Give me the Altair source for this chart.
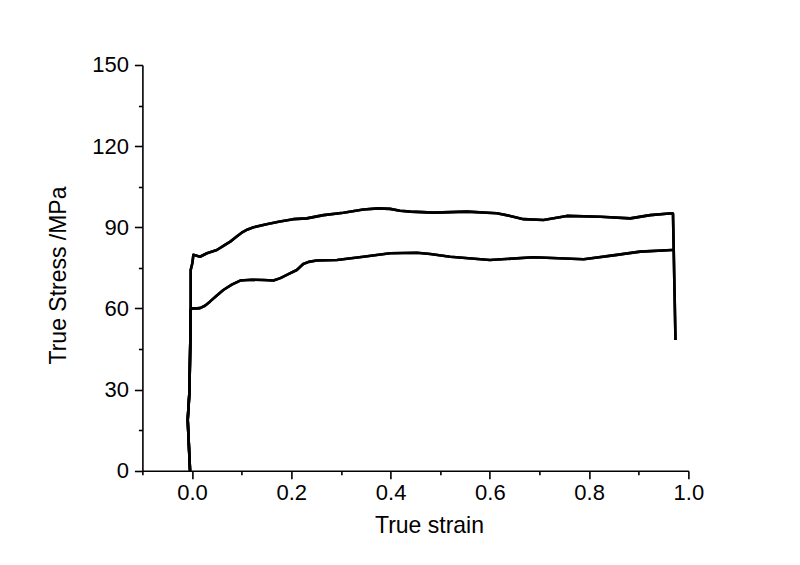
import altair as alt
import pandas as pd

# Curve A (upper)
strain_a = [-0.004, -0.0087, -0.0054, -0.0034, -0.0027, -0.0027, 0.0006, 0.0027, 0.016, 0.03,
            0.05, 0.064, 0.077, 0.09, 0.1, 0.112, 0.124, 0.15, 0.177, 0.204, 0.231, 0.265, 0.305,
            0.345, 0.375, 0.399, 0.419, 0.44, 0.487, 0.554, 0.614, 0.641, 0.668,
            0.708, 0.755, 0.823, 0.883, 0.923, 0.967, 0.969, 0.974]
stress_a = [0.0, 18.8, 28.6, 48.3, 59.4, 74.2, 76.7, 79.8, 79.1, 80.4,
            81.6, 83.2, 84.7, 86.6, 88.0, 89.2, 90.0, 91.1, 92.1, 93.0, 93.3, 94.5, 95.4,
            96.6, 97.0, 96.8, 96.1, 95.8, 95.4, 95.8, 95.2, 94.2, 93.0,
            92.7, 94.2, 93.9, 93.3, 94.5, 95.2, 95.0, 48.3]

# Curve B (lower)
strain_b = [-0.004, -0.0087, -0.0054, -0.0034, -0.0027, -0.0007, 0.0094, 0.016, 0.026, 0.036, 0.05, 0.063,
            0.08, 0.097, 0.12, 0.144, 0.164, 0.178, 0.191, 0.211, 0.224, 0.235, 0.251, 0.292, 0.345, 0.399,
            0.453, 0.48, 0.52, 0.6, 0.688, 0.789, 0.856, 0.903, 0.967, 0.969]
stress_b = [0.0, 18.8, 28.6, 48.3, 59.4, 60.0, 60.0, 60.1, 61.0, 62.5, 64.8, 66.8,
            68.8, 70.3, 70.6, 70.5, 70.3, 71.2, 72.4, 74.2, 76.4, 77.2, 77.7, 77.9, 79.1, 80.4,
            80.6, 80.1, 79.1, 77.9, 78.9, 78.2, 79.8, 81.0, 81.6, 81.6]

x_major = [0.0, 0.2, 0.4, 0.6, 0.8, 1.0]
x_minor = [-0.1, 0.1, 0.3, 0.5, 0.7, 0.9]
y_major = [0, 30, 60, 90, 120, 150]
y_minor = [15, 45, 75, 105, 135]

rows = []
for i, (s, t) in enumerate(zip(strain_a, stress_a)):
    rows.append({"series": "A", "idx": i, "strain": s, "stress": t})
for i, (s, t) in enumerate(zip(strain_b, stress_b)):
    rows.append({"series": "B", "idx": i, "strain": s, "stress": t})
df = pd.DataFrame(rows)

FONT = "Liberation Sans"
xscale = alt.Scale(domain=[-0.1, 1.0], nice=False, zero=False)
yscale = alt.Scale(domain=[0, 150], nice=False, zero=False)

common_axis = dict(domainColor="black", domainWidth=1.6, tickColor="black", tickWidth=1.6,
                   grid=False, labelFont=FONT, labelFontSize=22, labelColor="black",
                   labelFlush=False, labelOverlap=False,
                   titleFont=FONT, titleFontSize=23, titleFontWeight="normal", titleColor="black")

base = alt.Chart(df)

major = base.mark_line(color="black", strokeWidth=2.6, strokeJoin="round").encode(
    x=alt.X("strain:Q", scale=xscale,
            axis=alt.Axis(values=x_major, format=".1f", tickSize=8, labelPadding=4,
                          title="True strain", orient="bottom", titleBaseline="alphabetic",
                          titleX=286.6, titleY=61.6, **common_axis)),
    y=alt.Y("stress:Q", scale=yscale,
            axis=alt.Axis(values=y_major, format="d", tickSize=8, labelPadding=6,
                          title="True Stress /MPa", orient="left", titleBaseline="alphabetic",
                          titleAngle=270, titleX=-77.4, titleY=210, **common_axis)),
    detail="series:N",
    order="idx:Q",
)

minor = base.mark_line(color="black", strokeWidth=2.6, strokeJoin="round").encode(
    x=alt.X("strain:Q", scale=xscale,
            axis=alt.Axis(values=x_minor, tickSize=4, labels=False, domain=False, title=None,
                          orient="bottom", tickColor="black", tickWidth=1.6, grid=False)),
    y=alt.Y("stress:Q", scale=yscale,
            axis=alt.Axis(values=y_minor, tickSize=4, labels=False, domain=False, title=None,
                          orient="left", tickColor="black", tickWidth=1.6, grid=False)),
    detail="series:N",
    order="idx:Q",
)

chart = alt.layer(major, minor).resolve_axis(x="independent", y="independent").properties(
    width=546, height=405.7,
    autosize=alt.AutoSizeParams(type="none"),
    padding={"left": 134.4, "top": 57, "right": 100, "bottom": 90},
    background="white",
).configure_view(stroke=None)

chart.save("out.html", embed_options={"renderer": "svg", "actions": False})
